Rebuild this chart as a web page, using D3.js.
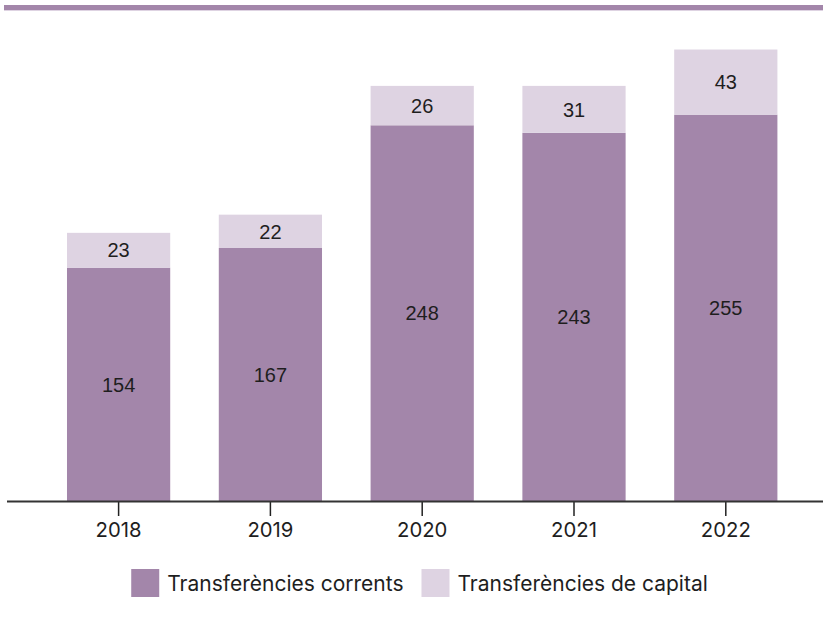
<!DOCTYPE html>
<html>
<head>
<meta charset="utf-8">
<script src="https://cdn.jsdelivr.net/npm/d3@7"></script>
<style>
  body { margin: 0; background: #fff; }
  svg { display: block; }
</style>
</head>
<body>
<svg id="chart" width="823" height="619"></svg>
<script>
const years = ['2018', '2019', '2020', '2021', '2022'];
const corrents = [154, 167, 248, 243, 255];
const capital = [23, 22, 26, 31, 43];
const seriesNames = ['Transferències corrents', 'Transferències de capital'];
const colors = ['#a386aa', '#ded3e2'];

const svg = d3.select('#chart');

// purple rule at the top
svg.append('rect').attr('x', 4).attr('y', 5).attr('width', 819).attr('height', 5).attr('fill', colors[0]);
svg.append('rect').attr('x', 4).attr('y', 10).attr('width', 819).attr('height', 1).attr('fill', colors[1]);

const x = d3.scaleBand().domain(years).range([42.7, 801.7]).paddingInner(0.32).paddingOuter(0.16);
const y = d3.scaleLinear().domain([0, 300]).range([501, 46.5]);

const rows = years.map((yr, i) => ({ year: yr, corrents: corrents[i], capital: capital[i] }));
const stacked = d3.stack().keys(['corrents', 'capital'])(rows);

const layers = svg.append('g').selectAll('g')
  .data(stacked)
  .join('g')
  .attr('fill', (d, i) => colors[i]);

layers.selectAll('rect')
  .data(d => d)
  .join('rect')
  .attr('x', d => x(d.data.year))
  .attr('width', x.bandwidth())
  .attr('y', d => y(d[1]))
  .attr('height', d => y(d[0]) - y(d[1]));

layers.selectAll('text')
  .data(d => d)
  .join('text')
  .attr('x', d => x(d.data.year) + x.bandwidth() / 2)
  .attr('y', d => (y(d[0]) + y(d[1])) / 2)
  .attr('dy', '0.36em')
  .attr('text-anchor', 'middle')
  .attr('fill', '#1e1e1e')
  .style('font', '20px "Liberation Sans", Arial, sans-serif')
  .text(d => d[1] - d[0]);

// x axis
const axis = svg.append('g')
  .attr('transform', `translate(0,${y(0)})`)
  .call(d3.axisBottom(x).tickSize(15).tickPadding(6.5).tickSizeOuter(0));
axis.select('.domain').remove();
axis.selectAll('.tick line').attr('stroke', '#222').attr('stroke-width', 1.5);
axis.selectAll('.tick text')
  .attr('fill', '#1e1e1e')
  .style('font', '20.3px Inter, sans-serif');
svg.append('line')
  .attr('x1', 7).attr('x2', 823)
  .attr('y1', y(0) + 0.5).attr('y2', y(0) + 0.5)
  .attr('stroke', '#333').attr('stroke-width', 2);

// legend, centred
const legend = svg.append('g');
const items = legend.selectAll('g').data(seriesNames).join('g');
items.append('rect').attr('width', 28).attr('height', 28).attr('y', -14).attr('fill', (d, i) => colors[i]);
items.append('text')
  .attr('x', 36)
  .attr('dy', '0.36em')
  .attr('fill', '#1e1e1e')
  .style('font', '21px Inter, sans-serif')
  .text(d => d);
let offset = 0;
items.each(function () {
  const w = 36 + d3.select(this).select('text').node().getComputedTextLength();
  d3.select(this).attr('transform', `translate(${offset},0)`);
  offset += w + 18;
});
const total = offset - 18;
legend.attr('transform', `translate(${419.5 - total / 2},583)`);
</script>
</body>
</html>
